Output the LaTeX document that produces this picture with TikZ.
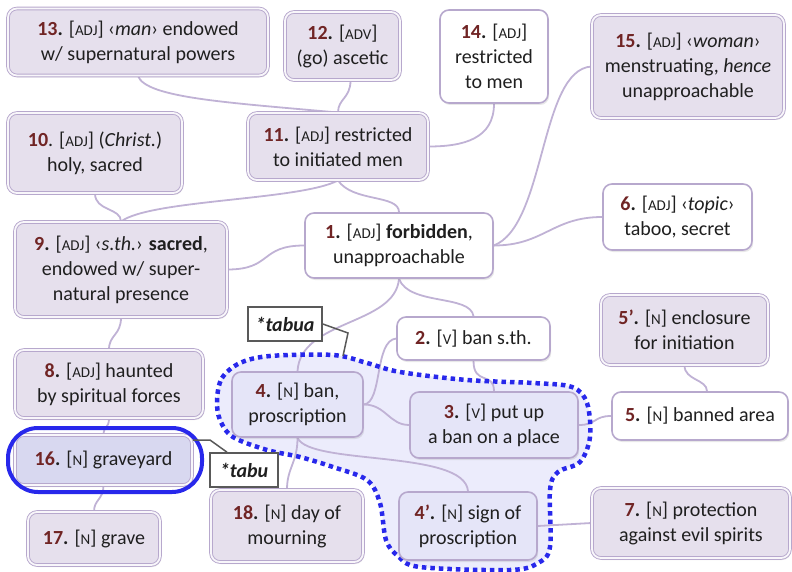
\documentclass[tikz,border=0pt]{standalone}
\usepackage{fontspec}
\setmainfont{Carlito}
\usetikzlibrary{shadows,backgrounds}
\definecolor{lil}{RGB}{183,168,205}
\definecolor{conn}{RGB}{192,178,213}
\definecolor{pfill}{RGB}{230,224,237}
\definecolor{bfill}{RGB}{229,229,248}
\definecolor{blobfill}{RGB}{236,236,252}
\definecolor{numred}{RGB}{112,36,36}
\definecolor{bluel}{RGB}{40,40,235}
\definecolor{fillsix}{RGB}{216,216,240}
\newcommand\nm[1]{{\bfseries\color{numred}#1}\textbf{.}}
\newcommand\ps[1]{[{\fontsize{15}{15}\selectfont #1}]}
\begin{document}
\begin{tikzpicture}[x=1pt,y=-1pt,
 every node/.style={font=\fontsize{20}{25}\selectfont, align=center, text=black!88},
 base/.style={rounded corners=9pt, inner sep=2pt, drop shadow={opacity=0.18, shadow xshift=1.2pt, shadow yshift=-2pt}},
 wbox/.style={base, draw=lil, line width=1.6pt, fill=white},
 pbox/.style={base, draw=lil, line width=0.9pt, double=white!70!pfill, double distance=1.8pt, fill=pfill},
 bbox/.style={base, draw=lil, line width=1.6pt, fill=bfill},
 cbox/.style={draw=black!65, line width=1.6pt, fill=white, inner sep=2pt, font=\fontsize{20}{25}\selectfont\bfseries\itshape},
 cn/.style={draw=conn, line width=1.8pt},
 sz/.style 2 args={minimum width=#1 pt, minimum height=#2 pt},
]
\useasboundingbox (0,0) rectangle (792,572);

\node[pbox, sz={260}{67}] (n13) at (138,42) {\nm{13} \ps{ADJ}\ ‹\textit{man}› endowed\\w/ supernatural powers};
\node[pbox, sz={115}{68}] (n12) at (342.5,46) {\nm{12} \ps{ADV}\\(go) ascetic};
\node[wbox, sz={108}{93}] (n14) at (494,56.5) {\nm{14} \ps{ADJ}\\restricted\\to men};
\node[pbox, sz={192}{103}] (n15) at (688,66.5) {\nm{15} \ps{ADJ}\ ‹\textit{woman}›\\menstruating, \textit{hence}\\unapproachable};
\node[pbox, sz={174}{80}] (n10) at (95,153) {{\bfseries\color{numred}10}. \ps{ADJ}\ (\textit{Christ.})\\holy, sacred};
\node[pbox, sz={180}{67}] (n11) at (338,146.5) {\nm{11} \ps{ADJ}\ restricted\\to initiated men};
\node[wbox, sz={188}{65}] (n1) at (399,245.5) {\nm{1} \ps{ADJ}\ \textbf{forbidden},\\unapproachable};
\node[wbox, sz={149}{66}] (n6) at (677.5,217) {\nm{6} \ps{ADJ} ‹\textit{topic}›\\taboo, secret};
\node[pbox, sz={212}{95}] (n9) at (121,269.5) {\nm{9} \ps{ADJ}\ ‹\textit{s.th.}› \textbf{sacred},\\endowed w/ super-\\natural presence};
\node[wbox, sz={153}{43}] (n2) at (473.5,338.5) {\nm{2} \ps{V}\ ban s.th.};
\node[pbox, sz={167}{70}] (n5p) at (684.5,330) {\nm{5’} \ps{N} enclosure\\for initiation};
\node[pbox, sz={188}{68}] (n8) at (109,384) {\nm{8} \ps{ADJ}\ haunted\\by spiritual forces};
\node[pbox, sz={177}{50}, fill=fillsix] (n16) at (103.5,460) {\nm{16} \ps{N} graveyard};
\node[pbox, sz={132}{53}] (n17) at (94,538.5) {\nm{17} \ps{N} grave};
\node[pbox, sz={152}{72}] (n18) at (287,526) {\nm{18} \ps{N} day of\\mourning};
\node[pbox, sz={198}{70}] (n7) at (691,523) {\nm{7} \ps{N} protection\\against evil spirits};
\node[wbox, sz={176}{48}] (n5) at (700,416) {\nm{5} \ps{N} banned area};

\begin{scope}[on background layer]
\fill[blobfill] plot[smooth cycle, tension=0.55] coordinates {(217,400) (222,378) (240,363) (270,356) (333,355) (367,363) (400,372) (467,380) (533,383) (572,387) (587,403) (590,437) (580,462) (558,472) (550,490) (550,547) (538,563) (510,570) (420,567) (398,556) (386,540) (380,503) (367,480) (333,467) (300,457) (267,450) (233,437) (220,420)};
\end{scope}

\node[bbox, sz={131}{65}] (n4) at (297.5,404.5) {\nm{4} \ps{N} ban,\\proscription};
\node[bbox, sz={168}{66}] (n3) at (494,425) {\nm{3} \ps{V}\ put up\\a ban on a place};
\node[bbox, sz={138}{68}] (n4p) at (468,526) {\nm{4’} \ps{N} sign of\\proscription};

\node[cbox, sz={74}{34}] (tabua) at (285,324) {*tabua};
\node[cbox, sz={68}{34}] (tabu) at (244,470) {*tabu};
\node[draw=bluel, line width=4pt, rounded corners=30pt, minimum width=194pt, minimum height=64pt] (ring) at (105,460) {};

\begin{scope}[on background layer]
\draw[cn] (n13.south) .. controls +(8,22) and +(-110,-10) .. (n11.north);
\draw[cn] ([xshift=8pt]n12.south) .. controls +(0,18) and +(0,-14) .. (n11.north);
\draw[cn] (n14.south) .. controls +(0,35) and +(35,0) .. (n11.east);
\draw[cn] (n15.west) .. controls +(-52,3) and +(52,-20) .. (n1.east);
\draw[cn] (n6.west) .. controls +(-50,0) and +(50,0) .. (n1.east);
\draw[cn] (n11.south) .. controls +(-38,20) and +(29,-22) .. (n9.north);
\draw[cn] (n10.south) .. controls +(0,18) and +(0,-14) .. (n9.north);
\draw[cn] (n11.south) .. controls +(15,22) and +(0,-18) .. (n1.north);
\draw[cn] (n9.east) .. controls +(45,0) and +(-45,0) .. (n1.west);
\draw[cn] (n9.south) .. controls +(0,18) and +(0,-15) .. (n8.north);
\draw[cn] (n1.south) .. controls +(-4,47) and +(3,-52) .. (n4.north);
\draw[cn] (n1.south) .. controls +(10,27) and +(-3,-22) .. (n2.north);
\draw[cn] (n2.west) .. controls +(-22,2) and +(19,-2) .. (n4.east);
\draw[cn] (n2.south) .. controls +(0,25) and +(0,-20) .. (n3.north);
\draw[cn] (n4.east) .. controls +(22,0) and +(-20,0) .. (n3.west);
\draw[cn] (n4.south) .. controls +(12,28) and +(-3,-42) .. (n4p.north);
\draw[cn] (n4.south) .. controls +(0,25) and +(0,-22) .. (n18.north);
\draw[cn] (n3.east) .. controls +(18,0) and +(-18,0) .. (n5.west);
\draw[cn] (n4p.east) -- (n7.west);
\draw[cn] (n5p.south) .. controls +(0,15) and +(0,-12) .. ([xshift=7pt]n5.north);
\draw[cn] (n8.south) .. controls +(0,10) and +(0,-8) .. (n16.north);
\draw[cn] (n16.south) .. controls +(0,14) and +(0,-12) .. (n17.north);
\draw[bluel, line width=4.5pt, dash pattern=on 4.5pt off 4pt] plot[smooth cycle, tension=0.55] coordinates {(217,400) (222,378) (240,363) (270,356) (333,355) (367,363) (400,372) (467,380) (533,383) (572,387) (587,403) (590,437) (580,462) (558,472) (550,490) (550,547) (538,563) (510,570) (420,567) (398,556) (386,540) (380,503) (367,480) (333,467) (300,457) (267,450) (233,437) (220,420)};
\end{scope}

\coordinate (ta1) at (348,333);
\coordinate (ta2) at (343,356);
\draw[black!65, line width=1.5pt] (tabua.east) -- (ta1) -- (ta2);
\coordinate (tb1) at (193,440);
\coordinate (tb2) at (210,440);
\draw[black!65, line width=1.5pt] (tb1) -- (tb2) -- ([xshift=-17pt]tabu.north);
\end{tikzpicture}
\end{document}
